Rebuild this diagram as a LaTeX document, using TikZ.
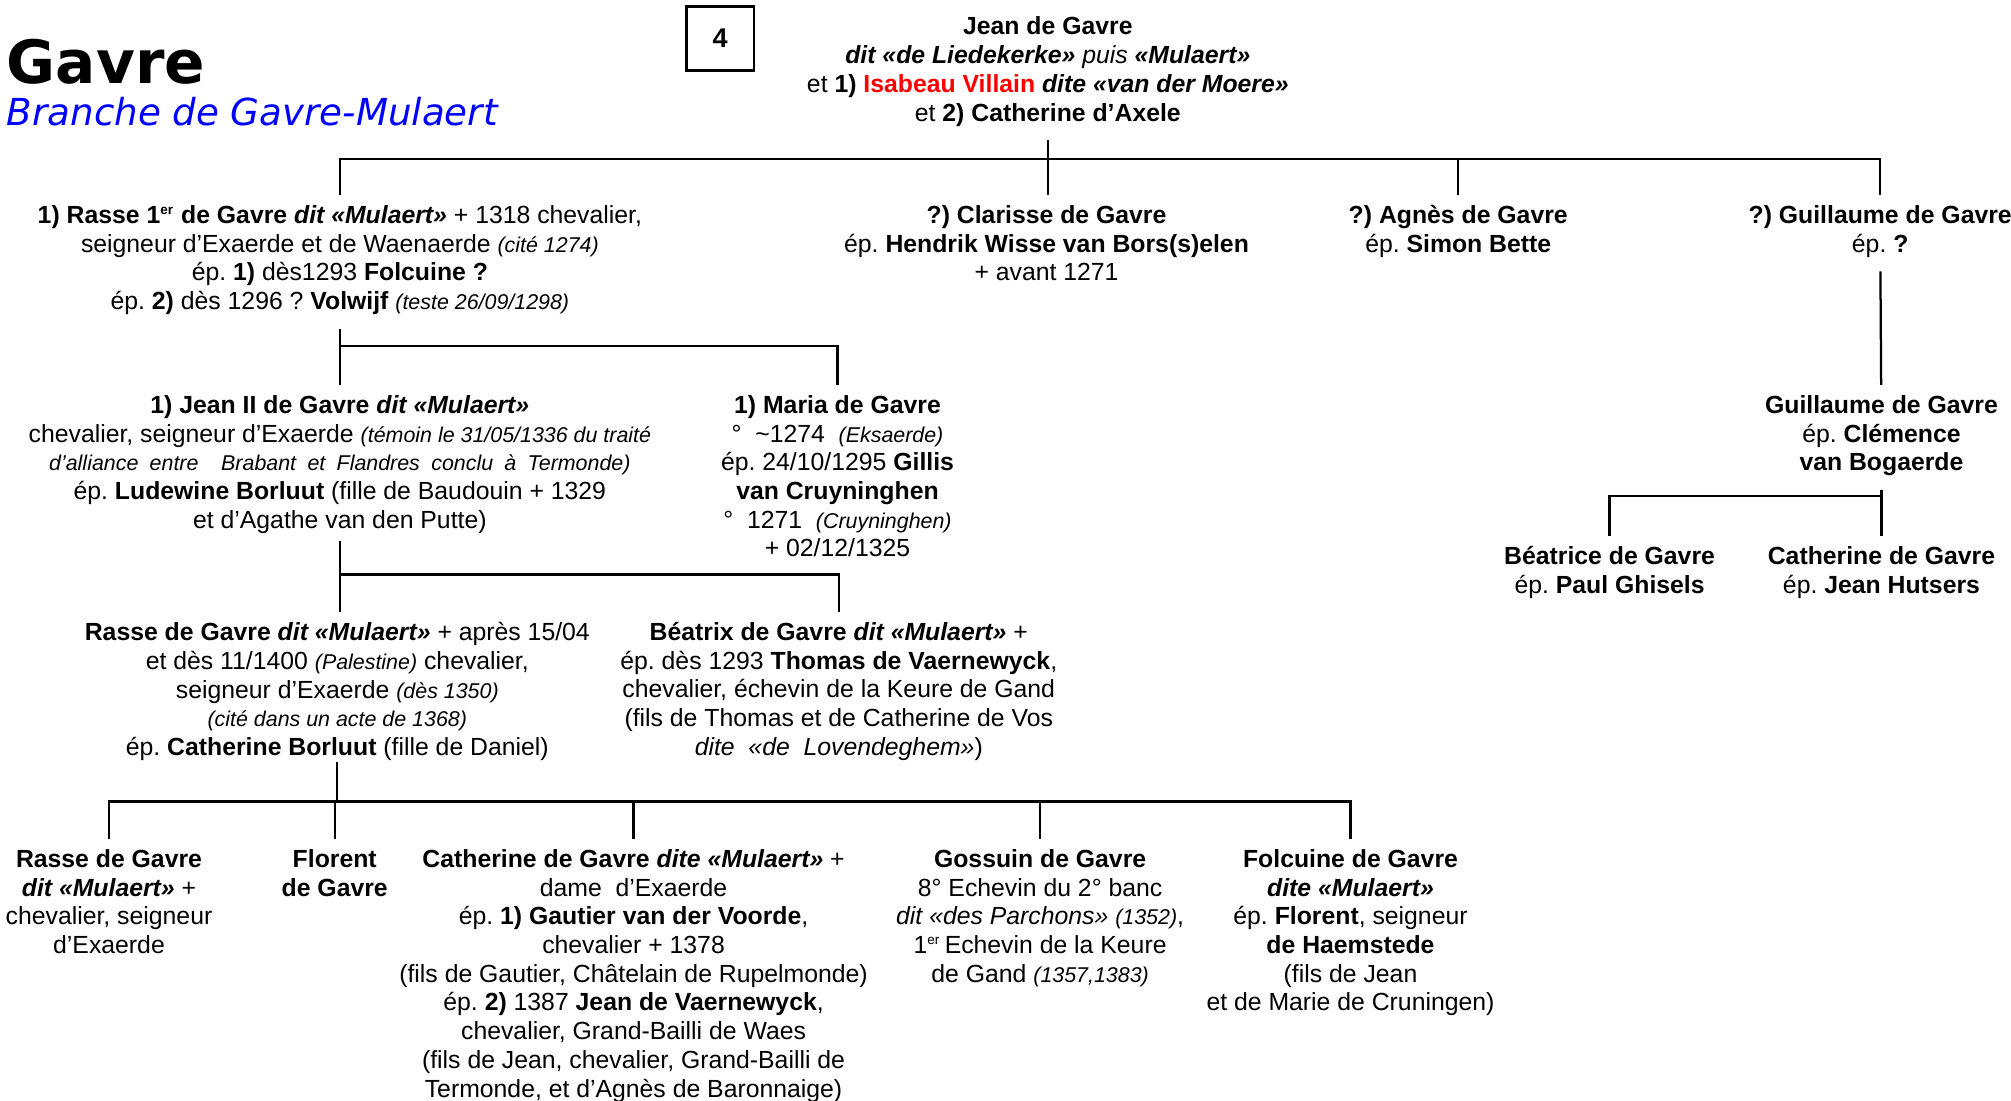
\documentclass[tikz,border=0pt]{standalone}
\usepackage{fontspec}
\setmainfont{Liberation Sans}
\newfontfamily\titlefont{DejaVu Sans}
\usepackage{tikz}
\usetikzlibrary{positioning}
\frenchspacing
\newcommand{\petit}[1]{{\fontsize{9.5}{12.75}\selectfont\itshape #1}}
\newcommand{\er}{\textsuperscript{\fontsize{6}{6}\selectfont er}}

\tikzset{
  person/.style={align=center, anchor=north, inner xsep=0pt, inner ysep=4.5pt,
    font=\fontsize{11}{12.75}\selectfont, execute at begin node=\strut},
  link/.style={line width=1pt},
}

\begin{document}
\begin{tikzpicture}[x=0.02cm,y=-0.02cm]
      \useasboundingbox (0,0) rectangle (1568,858);
      % titre
      \node[anchor=base west, inner sep=0pt, font=\titlefont\bfseries\fontsize{26.5}{30}\selectfont] at (5,65) (titre) {Gavre};
      \node[anchor=base west, inner sep=0pt, text=blue, font=\titlefont\itshape\fontsize{16.5}{20}\selectfont] at (5,98) (branche) {Branche de Gavre-Mulaert};
      \node[draw, very thick, minimum width=1.06cm, minimum height=1cm, font=\fontsize{12}{14}\selectfont\bfseries] at (561.5,30) (num) {4};
      % generation 1
      \node[person] at (817,5) (jean) {\textbf{Jean de Gavre}\\
        \textbf{\textit{dit «de Liedekerke»}} \textit{puis} \textbf{\textit{«Mulaert»}}\\
        et \textbf{1)} \textcolor{red}{\textbf{Isabeau Villain}} \textbf{\textit{dite «van der Moere»}}\\
        et \textbf{2) Catherine d’Axele}};
      % generation 2
      \node[person] at (265,152) (rasse1) {\textbf{1) Rasse 1\er{} de Gavre \textit{dit «Mulaert»}} + 1318 chevalier,\\
        seigneur d’Exaerde et de Waenaerde \petit{(cité 1274)}\\
        ép. \textbf{1)} dès1293 \textbf{Folcuine ?}\\
        ép. \textbf{2)} dès 1296 ? \textbf{Volwijf} \petit{(teste 26/09/1298)}};
      \node[person] at (816,152) (clarisse) {\textbf{?) Clarisse de Gavre}\\
        ép. \textbf{Hendrik Wisse van Bors(s)elen}\\
        + avant 1271};
      \node[person] at (1137,152) (agnes) {\textbf{?) Agnès de Gavre}\\
        ép. \textbf{Simon Bette}};
      \node[person] at (1466,152) (guill) {\textbf{?) Guillaume de Gavre}\\
        ép. \textbf{?}};
      % generation 3
      \node[person] at (265,300) (jean2) {\textbf{1) Jean II de Gavre \textit{dit «Mulaert»}}\\
        chevalier, seigneur d’Exaerde \petit{(témoin le 31/05/1336 du traité}\\
        \makebox[258pt][s]{\petit{d’alliance entre\ \ Brabant et Flandres conclu à Termonde)}}\\
        ép. \textbf{Ludewine Borluut} (fille de Baudouin + 1329\\
        et d’Agathe van den Putte)};
      \node[person] at (653,300) (maria) {\textbf{1) Maria de Gavre}\\
        °\ \ \textasciitilde1274\ \ \petit{(Eksaerde)}\\
        ép. 24/10/1295 \textbf{Gillis}\\
        \textbf{van Cruyninghen}\\
        °\ \ 1271\ \ \petit{(Cruyninghen)}\\
        + 02/12/1325};
      \node[person] at (1467,300) (guill2) {\textbf{Guillaume de Gavre}\\
        ép. \textbf{Clémence}\\
        \textbf{van Bogaerde}};
      \node[person] at (1255,418) (beatrice) {\textbf{Béatrice de Gavre}\\
        ép. \textbf{Paul Ghisels}};
      \node[person] at (1467,418) (cathr) {\textbf{Catherine de Gavre}\\
        ép. \textbf{Jean Hutsers}};
      % generation 4
      \node[person] at (263,477) (rasse4) {\textbf{Rasse de Gavre \textit{dit «Mulaert»}} + après 15/04\\
        et dès 11/1400 \petit{(Palestine)} chevalier,\\
        seigneur d’Exaerde \petit{(dès 1350)}\\
        \petit{(cité dans un acte de 1368)}\\
        ép. \textbf{Catherine Borluut} (fille de Daniel)};
      \node[person] at (654,477) (beatrix) {\textbf{Béatrix de Gavre \textit{dit «Mulaert»}} +\\
        ép. dès 1293 \textbf{Thomas de Vaernewyck},\\
        chevalier, échevin de la Keure de Gand\\
        (fils de Thomas et de Catherine de Vos\\
        \textit{dite\ \ «de\ \ Lovendeghem»})};
      % generation 5
      \node[person] at (85,654) (rasse5) {\textbf{Rasse de Gavre}\\
        \textbf{\textit{dit «Mulaert»}} +\\
        chevalier,\ seigneur\\
        d’Exaerde};
      \node[person] at (261,654) (florent) {\textbf{Florent}\\
        \textbf{de Gavre}};
      \node[person] at (494,654) (cath) {\textbf{Catherine de Gavre \textit{dite «Mulaert»}} +\\
        dame\ \ d’Exaerde\\
        ép. \textbf{1) Gautier van der Voorde},\\
        chevalier + 1378\\
        (fils de Gautier, Châtelain de Rupelmonde)\\
        ép. \textbf{2)} 1387 \textbf{Jean de Vaernewyck},\\
        chevalier, Grand-Bailli de Waes\\
        (fils de Jean, chevalier, Grand-Bailli de\\
        Termonde, et d’Agnès de Baronnaige)};
      \node[person] at (811,654) (gossuin) {\textbf{Gossuin de Gavre}\\
        8° Echevin du 2° banc\\
        \textit{dit «des Parchons»} \petit{(1352)},\\
        1\er\,Echevin de la Keure\\
        de Gand \petit{(1357,1383)}};
      \node[person] at (1053,654) (folcuine) {\textbf{Folcuine de Gavre}\\
        \textbf{\textit{dite «Mulaert»}}\\
        ép. \textbf{Florent}, seigneur\\
        \textbf{de Haemstede}\\
        (fils de Jean\\
        et de Marie de Cruningen)};
      % liens
      \coordinate (b1) at (0,124);
      \coordinate (b2) at (0,270);
      \coordinate (b3) at (0,448);
      \coordinate (b4) at (0,387);
      \coordinate (b5) at (0,625);
      \draw[link] (jean.south) -- (jean.south |- clarisse.north);
      \draw[link] (rasse1.north) |- (b1 -| guill) -- (guill.north);
      \draw[link] (agnes.north) -- (agnes.north |- b1);
      \draw[link] (rasse1) -- (jean2);
      \draw[link] (rasse1.south |- b2) -| (maria.north);
      \draw[link] ([yshift=0.1cm]jean2.south) -- (jean2.south |- rasse4.north);
      \draw[link] (jean2.south |- b3) -| (beatrix.north);
      \draw[link] (guill) -- (guill2);
      \draw[link] (guill2) -- (cathr);
      \draw[link] (guill2.south |- b4) -| (beatrice.north);
      \draw[link] ([yshift=0.2cm]rasse4.south) -- (rasse4.south |- b5);
      \draw[link] (rasse5.north) |- (b5 -| folcuine) -- (folcuine.north);
      \foreach \n in {florent,cath,gossuin}
        \draw[link] (\n.north) -- (\n.north |- b5);
\end{tikzpicture}
\end{document}
